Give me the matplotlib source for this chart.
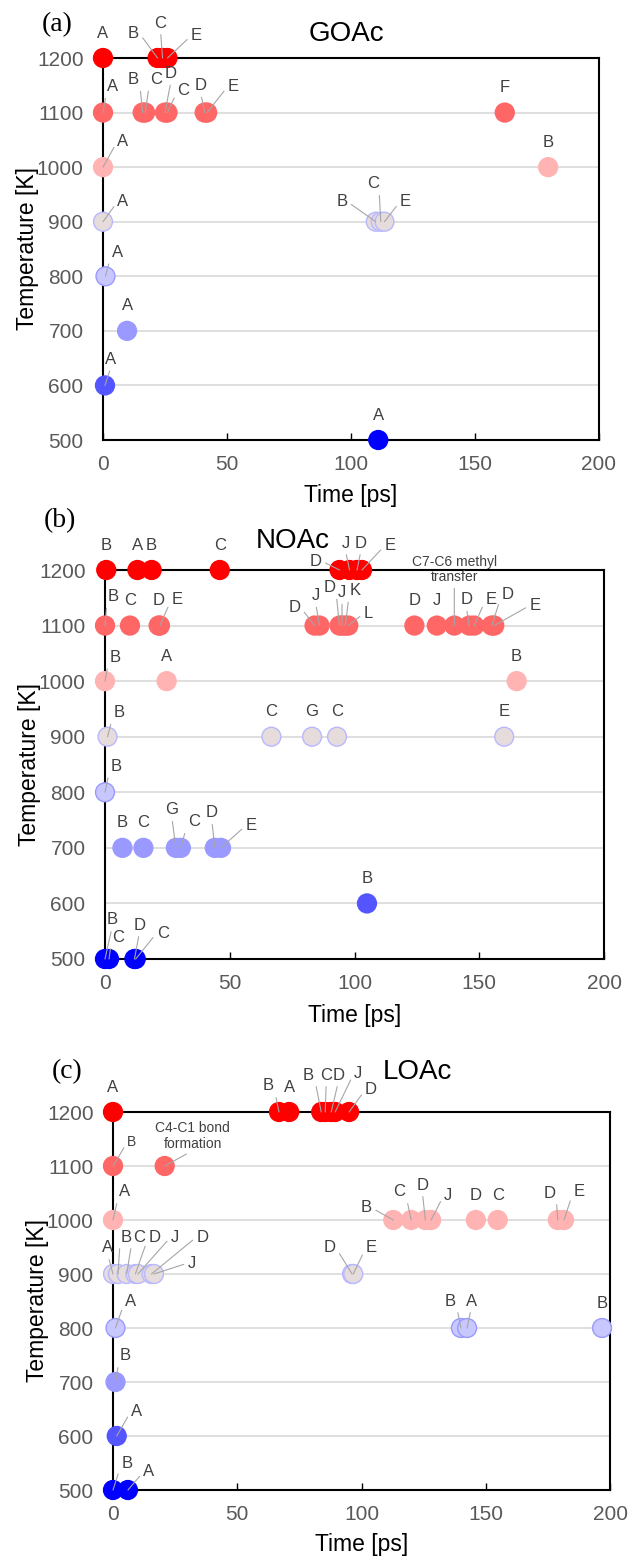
import matplotlib
matplotlib.use('Agg')
import matplotlib.pyplot as plt

plt.rcParams['font.family'] = ['Liberation Sans', 'DejaVu Sans']

# (a) GOAc
a_time = [0, 22, 24, 26,
          0, 16, 17, 25, 26, 41, 42, 162,
          0, 179.5,
          0, 110, 112, 113.5,
          1, 9.7, 0.8, 111]
a_temp = [1200] * 4 + [1100] * 8 + [1000] * 2 + [900] * 4 + [800, 700, 600, 500]
a_label = ['A', 'B', 'C', 'E',
           'A', 'B', 'C', 'D', 'C', 'D', 'E', 'F',
           'A', 'B',
           'A', 'B', 'C', 'E',
           'A', 'A', 'A', 'A']

# (b) NOAc
b_time = [0.5, 13, 18.7, 46, 94, 98, 101, 103,
          0, 10, 21.5, 22, 84, 86, 94, 95, 96.3, 97.5, 124, 133, 140, 146, 148, 155, 156,
          0, 24.7, 165,
          1, 66.7, 83, 93, 160,
          0,
          7, 15.4, 28.4, 30.4, 44, 46.5,
          105,
          0, 1.6, 11.8, 12.3]
b_temp = ([1200] * 8 + [1100] * 17 + [1000] * 3 + [900] * 5 + [800]
          + [700] * 6 + [600] + [500] * 4)
b_label = ['B', 'A', 'B', 'C', 'D', 'J', 'D', 'E',
           'B', 'C', 'D', 'E', 'D', 'J', 'D', 'J', 'K', 'L', 'D', 'J',
           'C7-C6 methyl\ntransfer', 'D', 'E', 'D', 'E',
           'B', 'A', 'B',
           'B', 'C', 'G', 'C', 'E',
           'B',
           'B', 'C', 'G', 'C', 'D', 'E',
           'B',
           'B', 'C', 'D', 'C']

# (c) LOAc
c_time = [0, 66.8, 70.9, 83.8, 85.4, 87.8, 89.4, 95,
          0, 20.8,
          0, 112.8, 120, 125.7, 128, 146, 154.8, 179, 181.5,
          0, 2, 5.5, 9, 10, 15.5, 16.5, 96.2, 96.7,
          1, 140, 142.5, 196.8,
          1,
          1.5,
          0, 6]
c_temp = ([1200] * 8 + [1100] * 2 + [1000] * 9 + [900] * 9 + [800] * 4
          + [700] + [600] + [500] * 2)
c_label = ['A', 'B', 'A', 'B', 'C', 'D', 'J', 'D',
           'B', 'C4-C1 bond\nformation',
           'A', 'B', 'C', 'D', 'J', 'D', 'C', 'D', 'E',
           'A', 'B', 'C', 'D', 'J', 'D', 'J', 'D', 'E',
           'A', 'B', 'A', 'B',
           'B',
           'A',
           'B', 'A']

# label offsets (pixels from the dot centre)
D0 = (0, 25)
a_off = [D0, (-24, 25), (-2, 35), (29, 22),
         (10, 26), (-9, 33), (11, 33), (6, 39), (16, 22), (-4, 27), (26, 26), D0,
         (20, 26), D0,
         (20, 20), (-34, 20), (-8, 38), (21, 20),
         (12, 24), D0, (6, 26), D0]
b_off = [D0, D0, D0, D0, (-24, 9), (-4, 27), (4, 27), (28, 24),
         (8, 29), D0, D0, (17, 26), (-20, 18), (-4, 30), (-10, 38), (0, 33), (10, 35),
         (20, 12), D0, D0, (0, 56), (-3, 26), (17, 26), (16, 31), (41, 20),
         (10, 24), D0, D0,
         (12, 24), D0, D0, D0, D0,
         (11, 26),
         D0, D0, (-4, 38), (13, 26), (-3, 35), (30, 22),
         D0,
         (7, 39), (9, 22), (5, 34), (27, 26)]
c_off = [D0, (-11, 26), D0, (-13, 37), (1, 37), (7, 37), (23, 39), (22, 22),
         (19, 24), (28, 30),
         (12, 28), (-27, 12), (-12, 28), (-3, 35), (17, 25), D0, D0, (-8, 27), (15, 29),
         (-5, 26), (8, 37), (12, 37), (19, 37), (37, 37), (51, 37), (38, 11), (-22, 26), (18, 26),
         (15, 27), (-11, 27), (4, 27), D0,
         (10, 26),
         (20, 25),
         (14, 26), (21, 18)]

face = {1200: '#FF0000', 1100: '#FF6666', 1000: '#FFB3B3', 900: '#E6DCDC',
        800: '#C8C8FF', 700: '#9999FF', 600: '#5555FF', 500: '#0000FF'}
edge = {1200: '#FF0000', 1100: '#FF6666', 1000: '#FFB3B3', 900: '#B8B8FF',
        800: '#9999FF', 700: '#9999FF', 600: '#5555FF', 500: '#0000FF'}

W, H = 631, 1560
fig = plt.figure(figsize=(W / 100, H / 100), dpi=100)


def panel(rect, times, temps, labels, offs, title, tpos, letter, lpos):
    l, r, t, b = rect
    ax = fig.add_axes([l / W, 1 - b / H, (r - l) / W, (b - t) / H])
    ax.set_xlim(0, 200)
    ax.set_ylim(500, 1200)
    ax.set_xticks([0, 50, 100, 150, 200])
    ax.set_yticks(range(500, 1201, 100))
    ax.yaxis.grid(True, color='#D9D9D9', lw=1.2)
    ax.set_axisbelow(True)
    for s in ax.spines.values():
        s.set_linewidth(1.5)
        s.set_color('black')
    ax.tick_params(axis='y', length=0, pad=14, labelsize=15, labelcolor='#595959')
    ax.tick_params(axis='x', direction='in', length=5, width=1, pad=11,
                   labelsize=15, labelcolor='#595959')
    ax.set_xlabel('Time [ps]', fontsize=16.5)
    ax.set_ylabel('Temperature [K]', fontsize=16.5)
    ax.xaxis.set_label_coords(0.5, -0.115)
    ax.yaxis.set_label_coords(-0.129, 0.5)

    ax.scatter(times, temps, s=185, c=[face[v] for v in temps],
               edgecolors=[edge[v] for v in temps], linewidths=1,
               clip_on=False, zorder=3)

    for x, y, lab, (dx, dy) in zip(times, temps, labels, offs):
        small = '\n' in lab or (title == 'LOAc' and y == 1100)
        arrow = None
        if (dx, dy) != D0:
            if '\n' in lab:
                rp = (0.5, 0)
            elif dx <= -8:
                rp = (1, 0.5)
            elif dx >= 8:
                rp = (0, 0.5)
            else:
                rp = (0.5, 0)
            arrow = dict(arrowstyle='-', color='#A6A6A6', lw=0.8,
                         shrinkA=1, shrinkB=0, relpos=rp)
        ax.annotate(lab, xy=(x, y), xytext=(dx, dy), textcoords='offset pixels',
                    ha='center', va='center', fontsize=10 if small else 12,
                    color='#404040', linespacing=1.1, arrowprops=arrow,
                    annotation_clip=False, zorder=4)

    ax.text(tpos[0], tpos[1], title, transform=ax.transAxes, ha='center',
            va='center', fontsize=20)
    fig.text(lpos[0] / W, 1 - lpos[1] / H, letter, family='Liberation Serif',
             fontsize=20, ha='left', va='center')
    return ax


panel((103, 599, 58, 440), a_time, a_temp, a_label, a_off,
      'GOAc', (0.49, 1.063), '(a)', (42, 25))
panel((105, 604, 570, 959), b_time, b_temp, b_label, b_off,
      'NOAc', (0.376, 1.075), '(b)', (44, 521))
panel((113, 610, 1112, 1490), c_time, c_temp, c_label, c_off,
      'LOAc', (0.613, 1.106), '(c)', (52, 1072))

fig.savefig('out.png', dpi=100)
